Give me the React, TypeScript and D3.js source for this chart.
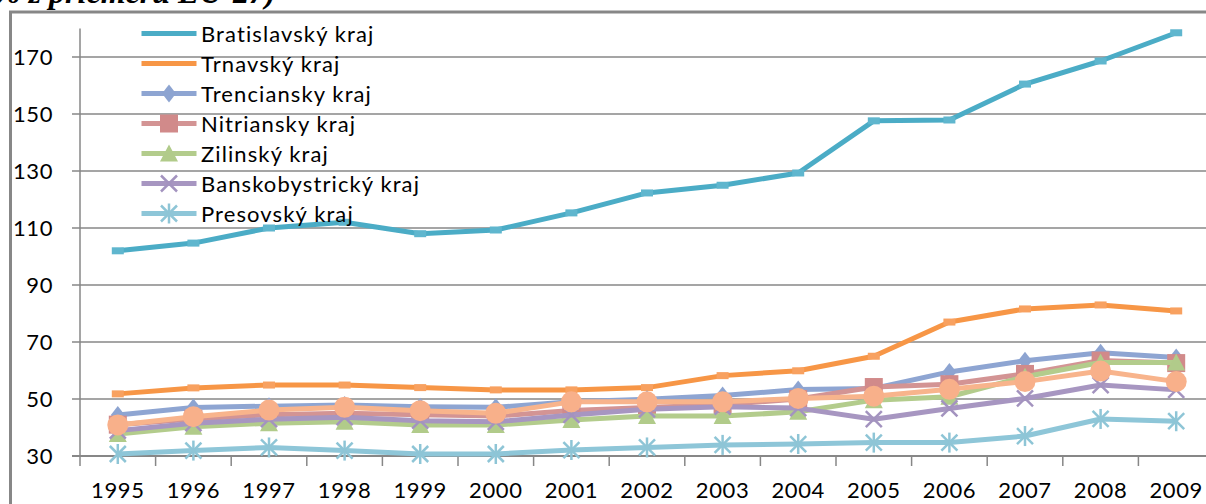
import React from "react";
import * as d3 from "d3";

const years = ["1995","1996","1997","1998","1999","2000","2001","2002","2003","2004","2005","2006","2007","2008","2009"];
const yTicks = [30, 50, 70, 90, 110, 130, 150, 170];

const bratislava = [102, 104.7, 110, 112, 108, 109.3, 115.3, 122.3, 125, 129.3, 147.6, 147.9, 160.5, 168.6, 178.5];
const trnava = [51.8, 53.9, 54.9, 54.9, 54, 53.2, 53.2, 54, 58.2, 59.9, 65, 77, 81.6, 83, 80.9];
const trencin = [44.4, 47, 47.5, 47.9, 47.3, 47.1, 49, 49.9, 51.2, 53.3, 53.7, 59.5, 63.4, 66.2, 64.6];
const nitra = [41, 43, 44.5, 45, 44.5, 44, 46, 47, 48, 50, 54.2, 55.2, 58.8, 63.5, 62.6];
const zilina = [37.7, 40.3, 41.5, 42, 40.9, 40.9, 42.6, 44, 44, 45.5, 49.6, 50.8, 57.8, 62.8, 62.8];
const banskaBystrica = [38.9, 41.5, 42.9, 43.6, 42.4, 42, 44.4, 46.4, 47.3, 46.8, 42.9, 46.7, 50.2, 54.9, 53.2];
const presov = [30.7, 31.9, 33, 31.9, 30.7, 30.7, 32.1, 33, 33.9, 34.2, 34.7, 34.7, 37, 43, 42.2];
const kosice = [40.9, 43.8, 46.1, 47.1, 45.9, 45, 49, 49, 49, 50.2, 51, 53.4, 56.1, 59.8, 56.1];

const seriesNames = ["Bratislavský kraj", "Trnavský kraj", "Trenciansky kraj", "Nitriansky kraj", "Zilinský kraj", "Banskobystrický kraj", "Presovský kraj", "Kosický kraj"];

type Marker = "dash" | "diamond" | "square" | "triangle" | "x" | "star" | "circle";

const series: { name: string; values: number[]; color: string; mcolor: string; marker: Marker; legend: boolean }[] = [
  { name: seriesNames[0], values: bratislava, color: "#4BACC6", mcolor: "#5FB6CE", marker: "dash", legend: true },
  { name: seriesNames[1], values: trnava, color: "#F79646", mcolor: "#F8A160", marker: "dash", legend: true },
  { name: seriesNames[2], values: trencin, color: "#8EA5D2", mcolor: "#8DA4D1", marker: "diamond", legend: true },
  { name: seriesNames[3], values: nitra, color: "#D39494", mcolor: "#D18A8A", marker: "square", legend: true },
  { name: seriesNames[4], values: zilina, color: "#B3CC8C", mcolor: "#B1CB8A", marker: "triangle", legend: true },
  { name: seriesNames[5], values: banskaBystrica, color: "#A796C1", mcolor: "#A393BF", marker: "x", legend: true },
  { name: seriesNames[6], values: presov, color: "#8EC6D8", mcolor: "#8EC5D6", marker: "star", legend: true },
  { name: seriesNames[7], values: kosice, color: "#F8B48C", mcolor: "#F8B08A", marker: "circle", legend: false },
];

const W = 1206;
const H = 504;
const FONT = "Lato, 'Open Sans', sans-serif";

function MarkerShape({ type, x, y, color }: { type: Marker; x: number; y: number; color: string }) {
  switch (type) {
    case "dash":
      return <rect x={x - 6} y={y - 3.5} width={12} height={7} fill={color} />;
    case "diamond":
      return <path d={`M${x},${y - 9}L${x + 7},${y}L${x},${y + 9}L${x - 7},${y}Z`} fill={color} />;
    case "square":
      return <rect x={x - 9} y={y - 9} width={18} height={18} fill={color} />;
    case "triangle":
      return <path d={`M${x},${y - 9}L${x + 9},${y + 8}L${x - 9},${y + 8}Z`} fill={color} />;
    case "x":
      return (
        <g stroke={color} strokeWidth={2.5}>
          <line x1={x - 8} y1={y - 8} x2={x + 8} y2={y + 8} />
          <line x1={x - 8} y1={y + 8} x2={x + 8} y2={y - 8} />
        </g>
      );
    case "star":
      return (
        <g stroke={color} strokeWidth={2.5}>
          <line x1={x - 8} y1={y - 8} x2={x + 8} y2={y + 8} />
          <line x1={x - 8} y1={y + 8} x2={x + 8} y2={y - 8} />
          <line x1={x} y1={y - 10} x2={x} y2={y + 10} />
        </g>
      );
    case "circle":
      return <circle cx={x} cy={y} r={10.5} fill={color} />;
  }
  return null;
}

export default function App() {
  const x = d3.scaleBand<string>().domain(years).range([80, 80 + 15 * 75.6]).paddingInner(0).paddingOuter(0);
  const y = d3.scaleLinear().domain([30, 180]).range([456, 28.5]);
  const cx = (yr: string) => (x(yr) as number) + x.bandwidth() / 2;
  const line = d3
    .line<number>()
    .x((_, i) => cx(years[i]))
    .y((v) => y(v));

  const axisColor = "#878787";

  return (
    <svg width={W} height={H} style={{ position: "absolute", left: 0, top: 0, background: "#fff" }}>
      <rect x={0} y={0} width={W} height={H} fill="#fff" />
      {/* title fragment (cut off at the top as in the source) */}
      <text x={-6} y={3} fontFamily="'Liberation Serif', 'Times New Roman', serif" fontWeight="bold" fontStyle="italic" fontSize={32} fill="#000">
        % z priemeru EU-27)
      </text>
      {/* outer chart border */}
      <path d={`M10.5,${H}L10.5,12H${W}`} fill="none" stroke={axisColor} strokeWidth={3} />

      {/* gridlines and y ticks */}
      {yTicks.map((t) => (
        <g key={t}>
          <line x1={72} x2={W} y1={y(t)} y2={y(t)} stroke={axisColor} strokeWidth={t === 30 ? 2 : 1.5} />
          <text x={53} y={y(t) + 8} textAnchor="end" fontFamily={FONT} fontSize={22} letterSpacing={0.6} fill="#000">
            {t}
          </text>
        </g>
      ))}
      {/* y axis line */}
      <line x1={80} x2={80} y1={y(180)} y2={456} stroke={axisColor} strokeWidth={1.5} />
      {/* x ticks */}
      {years.map((yr) => (
        <line key={"t" + yr} x1={x(yr) as number} x2={x(yr) as number} y1={456} y2={466} stroke={axisColor} strokeWidth={1.5} />
      ))}
      {years.map((yr) => (
        <text key={"l" + yr} x={cx(yr)} y={498} textAnchor="middle" fontFamily={FONT} fontSize={22} letterSpacing={0.6} fill="#000">
          {yr}
        </text>
      ))}

      {/* series */}
      {series.map((s) => (
        <g key={s.name}>
          <path d={line(s.values) || ""} fill="none" stroke={s.color} strokeWidth={5} strokeLinejoin="round" />
          {s.values.map((v, i) => (
            <MarkerShape key={i} type={s.marker} x={cx(years[i])} y={y(v)} color={s.mcolor} />
          ))}
        </g>
      ))}

      {/* legend */}
      {series
        .filter((s) => s.legend)
        .map((s, i) => {
          const ly = 33.5 + i * 30;
          return (
            <g key={"lg" + s.name}>
              <line x1={141.5} x2={196.5} y1={ly} y2={ly} stroke={s.color} strokeWidth={5} />
              {s.marker !== "dash" && <MarkerShape type={s.marker} x={169} y={ly} color={s.mcolor} />}
              <text x={201} y={ly + 8} fontFamily={FONT} fontSize={22} letterSpacing={1.1} fill="#000">
                {s.name}
              </text>
            </g>
          );
        })}
    </svg>
  );
}
